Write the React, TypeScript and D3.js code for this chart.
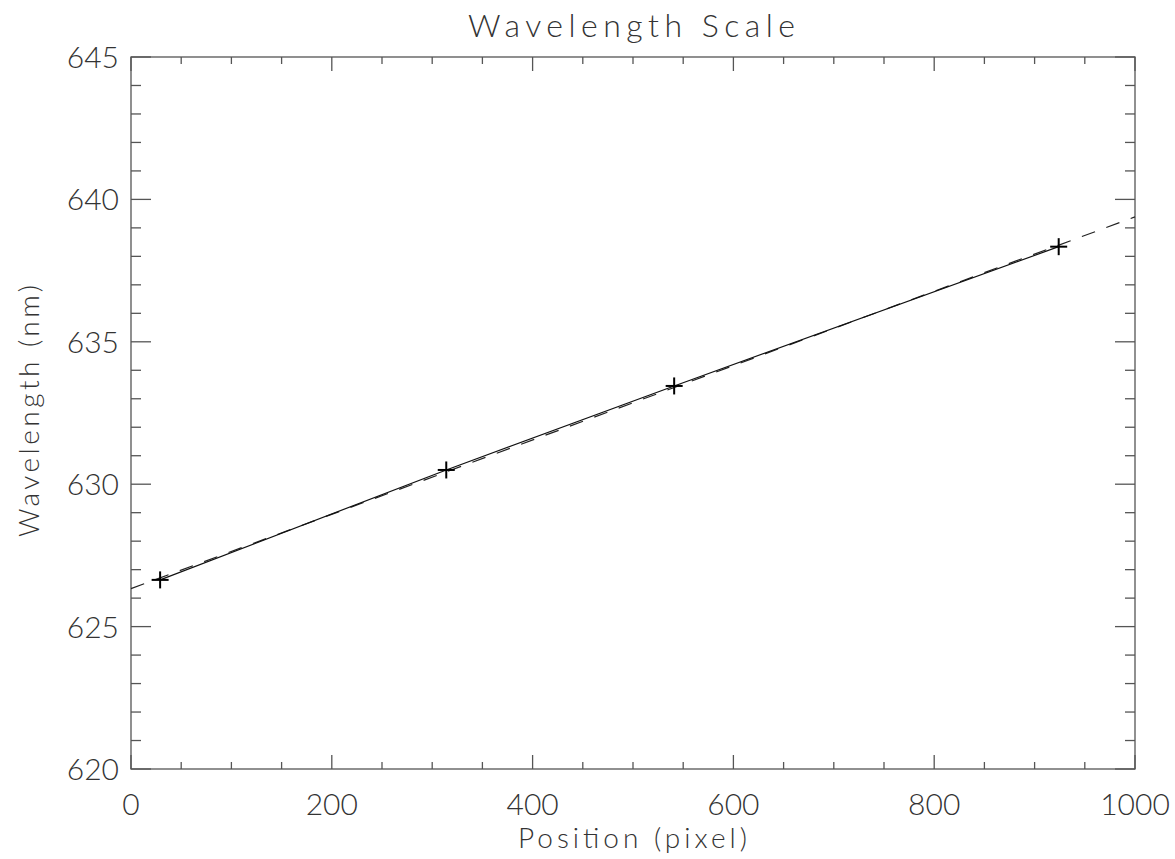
import React, { useEffect, useRef } from 'react';
import * as d3 from 'd3';

// measured calibration lines (pixel position -> wavelength)
const positions = [29, 314, 541, 924];
const wavelengths = [626.64, 630.5, 633.45, 638.34];

const xTicks = [0, 200, 400, 600, 800, 1000];
const yTicks = [620, 625, 630, 635, 640, 645];

const W = 1175, H = 859;
const margin = { left: 131, right: 40, top: 57, bottom: 90 };

const App = () => {
    const ref = useRef<SVGSVGElement>(null);

    useEffect(() => {
        if (!ref.current) return;
        const svg = d3.select(ref.current);
        svg.selectAll("*").remove();

        const x0 = margin.left, x1 = W - margin.right;
        const y0 = H - margin.bottom, y1 = margin.top;
        const x = d3.scaleLinear().domain([0, 1000]).range([x0, x1]);
        const y = d3.scaleLinear().domain([620, 645]).range([y0, y1]);

        // least squares line through the calibration points
        const mx = d3.mean(positions)!, my = d3.mean(wavelengths)!;
        const slope = d3.sum(positions, (p, i) => (p - mx) * (wavelengths[i] - my)) /
            d3.sum(positions, p => (p - mx) ** 2);
        const icpt = my - slope * mx;
        const fitX = x.domain();

        const axisCol = "#555";
        const textCol = "#333";
        const font = "Lato, 'DejaVu Sans', sans-serif";

        // frame
        svg.append("rect")
            .attr("x", x0).attr("y", y1)
            .attr("width", x1 - x0).attr("height", y0 - y1)
            .attr("fill", "none").attr("stroke", axisCol).attr("stroke-width", 1.3);

        const ticks = svg.append("g").attr("stroke", axisCol).attr("stroke-width", 1.3);

        // x ticks on bottom and top; major 14px, minor 7px
        d3.range(0, 1001, 50).forEach(v => {
            const len = v % 200 === 0 ? 14 : 7;
            ticks.append("line").attr("x1", x(v)).attr("x2", x(v)).attr("y1", y0).attr("y2", y0 - len);
            ticks.append("line").attr("x1", x(v)).attr("x2", x(v)).attr("y1", y1).attr("y2", y1 + len);
        });

        // y ticks on left and right; major 20px, minor 10px
        d3.range(620, 645.5, 1).forEach(v => {
            const len = v % 5 === 0 ? 20 : 10;
            ticks.append("line").attr("y1", y(v)).attr("y2", y(v)).attr("x1", x0).attr("x2", x0 + len);
            ticks.append("line").attr("y1", y(v)).attr("y2", y(v)).attr("x1", x1).attr("x2", x1 - len);
        });

        const txt = svg.append("g")
            .attr("fill", textCol)
            .attr("font-family", font)
            .attr("font-weight", 300);

        txt.selectAll("text.xl").data(xTicks).join("text")
            .attr("class", "xl")
            .attr("x", d => x(d)).attr("y", y0 + 46)
            .attr("text-anchor", "middle")
            .attr("font-size", 30)
            .text(d => d);

        txt.selectAll("text.yl").data(yTicks).join("text")
            .attr("class", "yl")
            .attr("x", x0 - 12).attr("y", d => y(d) + 11)
            .attr("text-anchor", "end")
            .attr("font-size", 30)
            .text(d => d);

        txt.append("text")
            .attr("x", 468).attr("y", 37)
            .attr("font-size", 32)
            .attr("textLength", 327).attr("lengthAdjust", "spacing")
            .text("Wavelength Scale");

        txt.append("text")
            .attr("x", 518).attr("y", 848)
            .attr("font-size", 28)
            .attr("textLength", 229).attr("lengthAdjust", "spacing")
            .text("Position (pixel)");

        txt.append("text")
            .attr("transform", "translate(39, 537) rotate(-90)")
            .attr("font-size", 28)
            .attr("textLength", 252).attr("lengthAdjust", "spacing")
            .text("Wavelength (nm)");

        // fitted line, dashed
        svg.append("path")
            .attr("d", d3.line<number>().x(d => x(d)).y(d => y(icpt + slope * d))(fitX))
            .attr("fill", "none").attr("stroke", "#222").attr("stroke-width", 1.2)
            .attr("stroke-dasharray", "14,12");

        // data connected with solid line
        svg.append("path")
            .attr("d", d3.line<number>().x((d, i) => x(positions[i])).y(d => y(d))(wavelengths))
            .attr("fill", "none").attr("stroke", "#111").attr("stroke-width", 1.2);

        // plus markers
        const s = 8.5;
        const pts = svg.append("g").attr("stroke", "#000").attr("stroke-width", 2);
        positions.forEach((p, i) => {
            const cx = x(p), cy = y(wavelengths[i]);
            pts.append("line").attr("x1", cx - s).attr("x2", cx + s).attr("y1", cy).attr("y2", cy);
            pts.append("line").attr("x1", cx).attr("x2", cx).attr("y1", cy - s).attr("y2", cy + s);
        });
    }, []);

    return (
        <svg ref={ref} width={W} height={H}
            style={{ position: "absolute", left: 0, top: 0, background: "#fff" }} />
    );
};

export default App;
